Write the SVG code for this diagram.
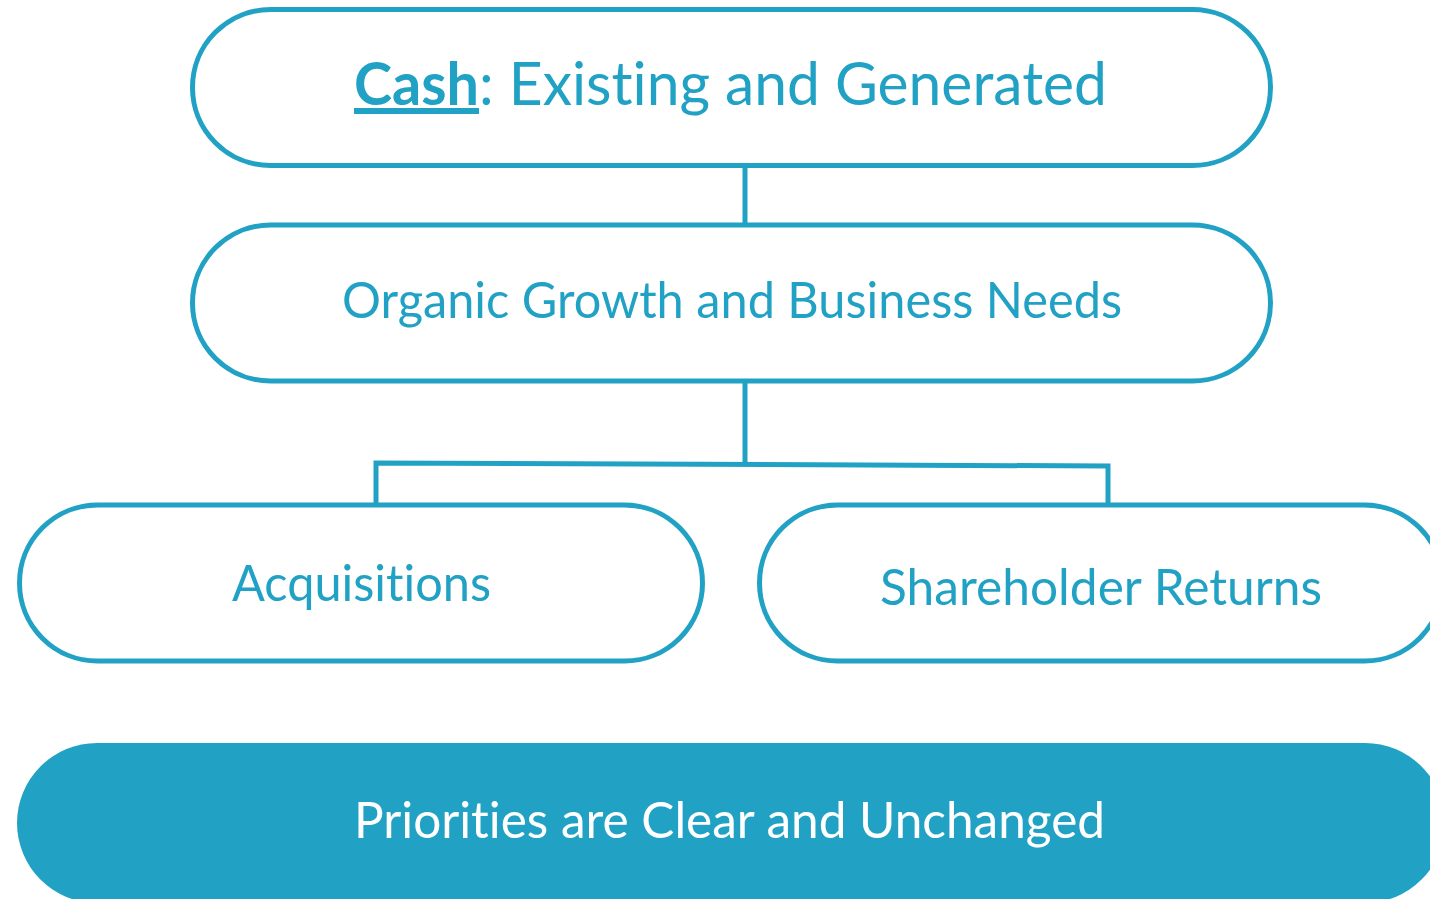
<svg xmlns="http://www.w3.org/2000/svg" width="1430" height="899" viewBox="0 0 1430 899">
  <style>
    .pill { fill: #ffffff; stroke: #21a2c5; stroke-width: 5; }
    .solid { fill: #21a2c5; stroke: none; }
    .link { fill: none; stroke: #21a2c5; stroke-width: 5; }
    .label { font-family: Lato, "Open Sans", "Liberation Sans", sans-serif; fill: #21a2c5; font-variant-ligatures: none; font-feature-settings: "liga" 0, "clig" 0; }
    .inv { fill: #ffffff; }
  </style>
  <rect width="1430" height="899" fill="#ffffff"/>

  <!-- connectors -->
  <g id="connectors">
    <line class="link" x1="745" y1="166" x2="745" y2="226"/>
    <line class="link" x1="745" y1="382" x2="745" y2="464"/>
    <polyline class="link" points="376,504 376,463 1108,466 1108,504"/>
  </g>

  <g id="node-cash">
    <rect class="pill" x="192.5" y="9.5" width="1078" height="156" rx="78" ry="78"/>
    <text class="label" y="105" font-size="60">
      <tspan x="354" font-weight="bold" text-decoration="underline" textLength="125" lengthAdjust="spacingAndGlyphs">Cash</tspan><tspan x="479" textLength="628" lengthAdjust="spacingAndGlyphs">: Existing and Generated</tspan>
    </text>
  </g>

  <g id="node-organic">
    <rect class="pill" x="192.5" y="225" width="1078" height="156" rx="78" ry="78"/>
    <text class="label" x="342" y="318" font-size="50" textLength="780" lengthAdjust="spacingAndGlyphs">Organic Growth and Business Needs</text>
  </g>

  <g id="node-acquisitions">
    <rect class="pill" x="19.5" y="505" width="683" height="156" rx="78" ry="78"/>
    <text class="label" x="232" y="601" font-size="50" textLength="259" lengthAdjust="spacingAndGlyphs">Acquisitions</text>
  </g>

  <g id="node-shareholder">
    <rect class="pill" x="759.5" y="505" width="683" height="156" rx="78" ry="78"/>
    <text class="label" x="880" y="605" font-size="50" textLength="442" lengthAdjust="spacingAndGlyphs">Shareholder Returns</text>
  </g>

  <g id="node-priorities">
    <rect class="solid" x="17" y="743" width="1428" height="160" rx="80" ry="80"/>
    <text class="label inv" x="354" y="838" font-size="50" textLength="751" lengthAdjust="spacingAndGlyphs">Priorities are Clear and Unchanged</text>
  </g>
</svg>
